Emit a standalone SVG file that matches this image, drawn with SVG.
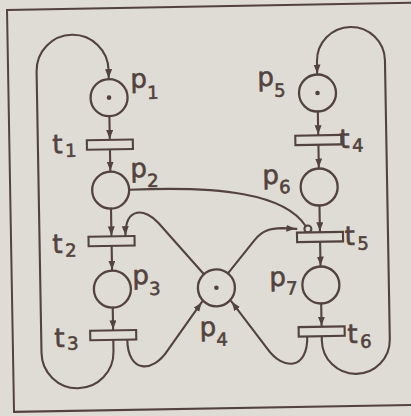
<svg xmlns="http://www.w3.org/2000/svg" width="411" height="416" viewBox="0 0 411 416">
<defs>
<style>
.ln{fill:none;stroke:#52433e;stroke-width:2.1;stroke-linecap:round;stroke-linejoin:round}
.pl{fill:none;stroke:#52433e;stroke-width:2.3}
.tr{fill:#dedcd4;stroke:#52433e;stroke-width:2.1}
.tk{fill:#52433e}
.lb{font-family:"DejaVu Sans","Liberation Sans",sans-serif;font-size:26px;fill:#52433e;stroke:#52433e;stroke-width:0.6}
.sb{font-size:18px}
</style>
<marker id="ah" markerUnits="userSpaceOnUse" markerWidth="12" markerHeight="8" refX="10" refY="3.5" orient="auto">
<path d="M0,0 L9,3.5 L0,7 z" fill="#52433e"/>
</marker>
</defs>
<rect x="0" y="0" width="411" height="416" fill="#dedcd4"/>
<g transform="rotate(-1 205 208)">
<rect id="frame" x="10.5" y="6.5" width="405" height="402" fill="none" stroke="#52433e" stroke-width="2"/>
<g id="connectors">
<path class="ln" d="M111,114.5 L111,138.25" marker-end="url(#ah)"/>
<path class="ln" d="M111,147.75 L111,170" marker-end="url(#ah)"/>
<path class="ln" d="M111,207 L111,234.75" marker-end="url(#ah)"/>
<path class="ln" d="M111,244.25 L111,269" marker-end="url(#ah)"/>
<path class="ln" d="M111,306 L111,328.75" marker-end="url(#ah)"/>
<path class="ln" d="M319.5,113.5 L319.5,137.25" marker-end="url(#ah)"/>
<path class="ln" d="M319.5,146.75 L319.5,170.5" marker-end="url(#ah)"/>
<path class="ln" d="M319.5,207.5 L319.5,234.25" marker-end="url(#ah)"/>
<path class="ln" d="M319.5,243.75 L319.5,268.5" marker-end="url(#ah)"/>
<path class="ln" d="M319.5,305.5 L319.5,328.75" marker-end="url(#ah)"/>
<path class="ln" d="M111,338.25 L111,350 A36,36 0 0 1 39,350 L39,68.5 A36,36 0 0 1 111,68.5 L111,77.5" marker-end="url(#ah)"/>
<path class="ln" d="M319.5,338.25 L319.5,342.5 A34,34 0 0 0 387.5,342.5 L387.5,63.5 A34,34 0 0 0 319.5,63.5 L319.5,76.5" marker-end="url(#ah)"/>
<path class="ln" d="M125,338.25 C125,372 150,372 165,350 L200.5,301.5" marker-end="url(#ah)"/>
<path class="ln" d="M305,338.25 C305,372 280,372 265,350 L229.5,301.5" marker-end="url(#ah)"/>
<path class="ln" d="M202.8,274.2 L158,222 C146,208 125,204 125,234.75" marker-end="url(#ah)"/>
<path class="ln" d="M226.8,273.8 L254,241 C262,231 270,229.5 282,229.5 L296,230.5" marker-end="url(#ah)"/>
<path class="ln" d="M129.5,188.5 C220,186 285,195 305.3,227.8"/>
<circle class="ln" cx="307.5" cy="230.75" r="3.5"/>
</g>
<g id="p1"><circle class="pl" cx="111" cy="96" r="18.5"/><circle class="tk" cx="111" cy="96" r="2.3"/><text class="lb" x="132.7" y="86.5">p<tspan class="sb" dy="11.5">1</tspan></text></g>
<g id="t1"><rect class="tr" x="88" y="138.25" width="46" height="9.5"/><text class="lb" x="53.5" y="150.5">t<tspan class="sb" dx="2.5" dy="4">1</tspan></text></g>
<g id="p2"><circle class="pl" cx="111" cy="188.5" r="18.5"/><text class="lb" x="131" y="176">p<tspan class="sb" dy="10">2</tspan></text></g>
<g id="t2"><rect class="tr" x="88" y="234.75" width="46" height="9.5"/><text class="lb" x="51.7" y="250.3">t<tspan class="sb" dx="2.5" dy="4">2</tspan></text></g>
<g id="p3"><circle class="pl" cx="111" cy="287.5" r="18.5"/><text class="lb" x="131.3" y="283">p<tspan class="sb" dy="11">3</tspan></text></g>
<g id="t3"><rect class="tr" x="88" y="328.75" width="46" height="9.5"/><text class="lb" x="52" y="344.4">t<tspan class="sb" dx="2.5" dy="3">3</tspan></text></g>
<g id="p4"><circle class="pl" cx="215" cy="288" r="18.5"/><circle class="tk" cx="215" cy="288" r="2.3"/><text class="lb" x="197.5" y="336">p<tspan class="sb" dy="10">4</tspan></text></g>
<g id="p5"><circle class="pl" cx="319.5" cy="95" r="18.5"/><circle class="tk" cx="319.5" cy="95" r="2.3"/><text class="lb" x="259.6" y="87">p<tspan class="sb" dy="11">5</tspan></text></g>
<g id="t4"><rect class="tr" x="296.5" y="137.25" width="46" height="9.5"/><text class="lb" x="340.5" y="150.4">t<tspan class="sb" dx="2.5" dy="4">4</tspan></text></g>
<g id="p6"><circle class="pl" cx="319.5" cy="189" r="18.5"/><text class="lb" x="263" y="185">p<tspan class="sb" dy="9.5">6</tspan></text></g>
<g id="t5"><rect class="tr" x="296.5" y="234.25" width="46" height="9.5"/><text class="lb" x="344" y="247.4">t<tspan class="sb" dx="2.5" dy="5">5</tspan></text></g>
<g id="p7"><circle class="pl" cx="319.5" cy="287" r="18.5"/><text class="lb" x="268.2" y="287">p<tspan class="sb" dy="9">7</tspan></text></g>
<g id="t6"><rect class="tr" x="296.5" y="328.75" width="46" height="9.5"/><text class="lb" x="345" y="345.5">t<tspan class="sb" dx="2.5" dy="5">6</tspan></text></g>
</g>
</svg>
